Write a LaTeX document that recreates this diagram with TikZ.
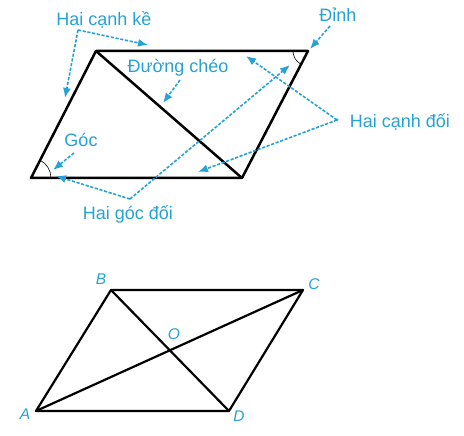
\documentclass[tikz,border=0pt]{standalone}
\usepackage{fontspec}
\setmainfont{Liberation Sans}
\usetikzlibrary{arrows.meta,calc,intersections}
\definecolor{lblue}{RGB}{38,162,214}
\begin{document}
\begin{tikzpicture}[x=1pt,y=1pt,
  edge/.style={line width=2.5pt,line join=round,line cap=round},
  thinedge/.style={line width=2.2pt,line join=round,line cap=round},
  pointer/.style={lblue,line width=1.6pt,dash pattern=on 3.2pt off 1.6pt,-{Latex[length=10pt,width=8pt]}},
  lbl/.style={text=lblue,font=\fontsize{18}{20}\selectfont,inner sep=0pt},
  vlbl/.style={text=lblue,font=\fontsize{15.5}{17}\selectfont\itshape,inner sep=0pt}]
\useasboundingbox (0,0) rectangle (464,436);
% top parallelogram
\coordinate (P1) at (96,385);
\coordinate (P2) at (308,385);
\coordinate (P3) at (242,258);
\coordinate (P4) at (31,258);
\draw[edge] (P1) -- (P2) -- (P3) -- (P4) -- cycle;
\draw[edge] (P1) -- (P3);
\draw[line width=0.6pt] ([shift={(180:15)}]P2) arc (180:242.5:15);
\draw[line width=0.6pt] ([shift={(0:20)}]P4) arc (0:63:20);
% labels
\node[lbl] (ke) at (104,416) {Hai cạnh kề};
\node[lbl] (cheo) at (178,368) {Đường chéo};
\node[lbl] (dinh) at (338,421) {Đỉnh};
\node[lbl] (doi) at (400,314) {Hai cạnh đối};
\node[lbl] (goc) at (81,296) {Góc};
\node[lbl] (gocdoi) at (128,222) {Hai góc đối};
% anchors and tips
\coordinate (kA) at (78,406);
\coordinate (kT1) at (148,391);
\coordinate (kT2) at (65,338);
\coordinate (cA) at (180,356);
\coordinate (cT) at (163,333);
\coordinate (dA) at (330,410);
\coordinate (dT) at (310,387);
\coordinate (oA) at (337,316);
\coordinate (oT1) at (246,380);
\coordinate (oT2) at (198,264);
\coordinate (gA) at (74,283);
\coordinate (gT) at (53,266);
\coordinate (hA) at (130,237);
\coordinate (hT1) at (56,260);
\coordinate (hT2) at (290,371);
\draw[pointer] (kA) -- (kT1);
\draw[pointer] (kA) -- (kT2);
\draw[pointer] (cA) -- (cT);
\draw[pointer] (dA) -- (dT);
\draw[pointer] (oA) -- (oT1);
\draw[pointer] (oA) -- (oT2);
\fill[lblue] (oA) circle (1.5pt);
\draw[pointer] (gA) -- (gT);
\draw[pointer] (hA) -- (hT1);
\draw[pointer] (hA) -- (hT2);
% bottom parallelogram
\coordinate (A) at (36,25);
\coordinate (B) at (111,146);
\coordinate (C) at (303,146);
\coordinate (D) at (229,25);
\draw[thinedge] (A) -- (B) -- (C) -- (D) -- cycle;
\draw[thinedge, name path=ac] (A) -- (C);
\draw[thinedge, name path=bd] (B) -- (D);
\path[name intersections={of=ac and bd, by=O}];
\node[vlbl] (lA) at (25,22) {A};
\node[vlbl] (lB) at (101,157) {B};
\node[vlbl] (lC) at (314,152) {C};
\node[vlbl] (lD) at (239,20) {D};
\node[vlbl] (lO) at (174,102) {O};
\end{tikzpicture}
\end{document}
